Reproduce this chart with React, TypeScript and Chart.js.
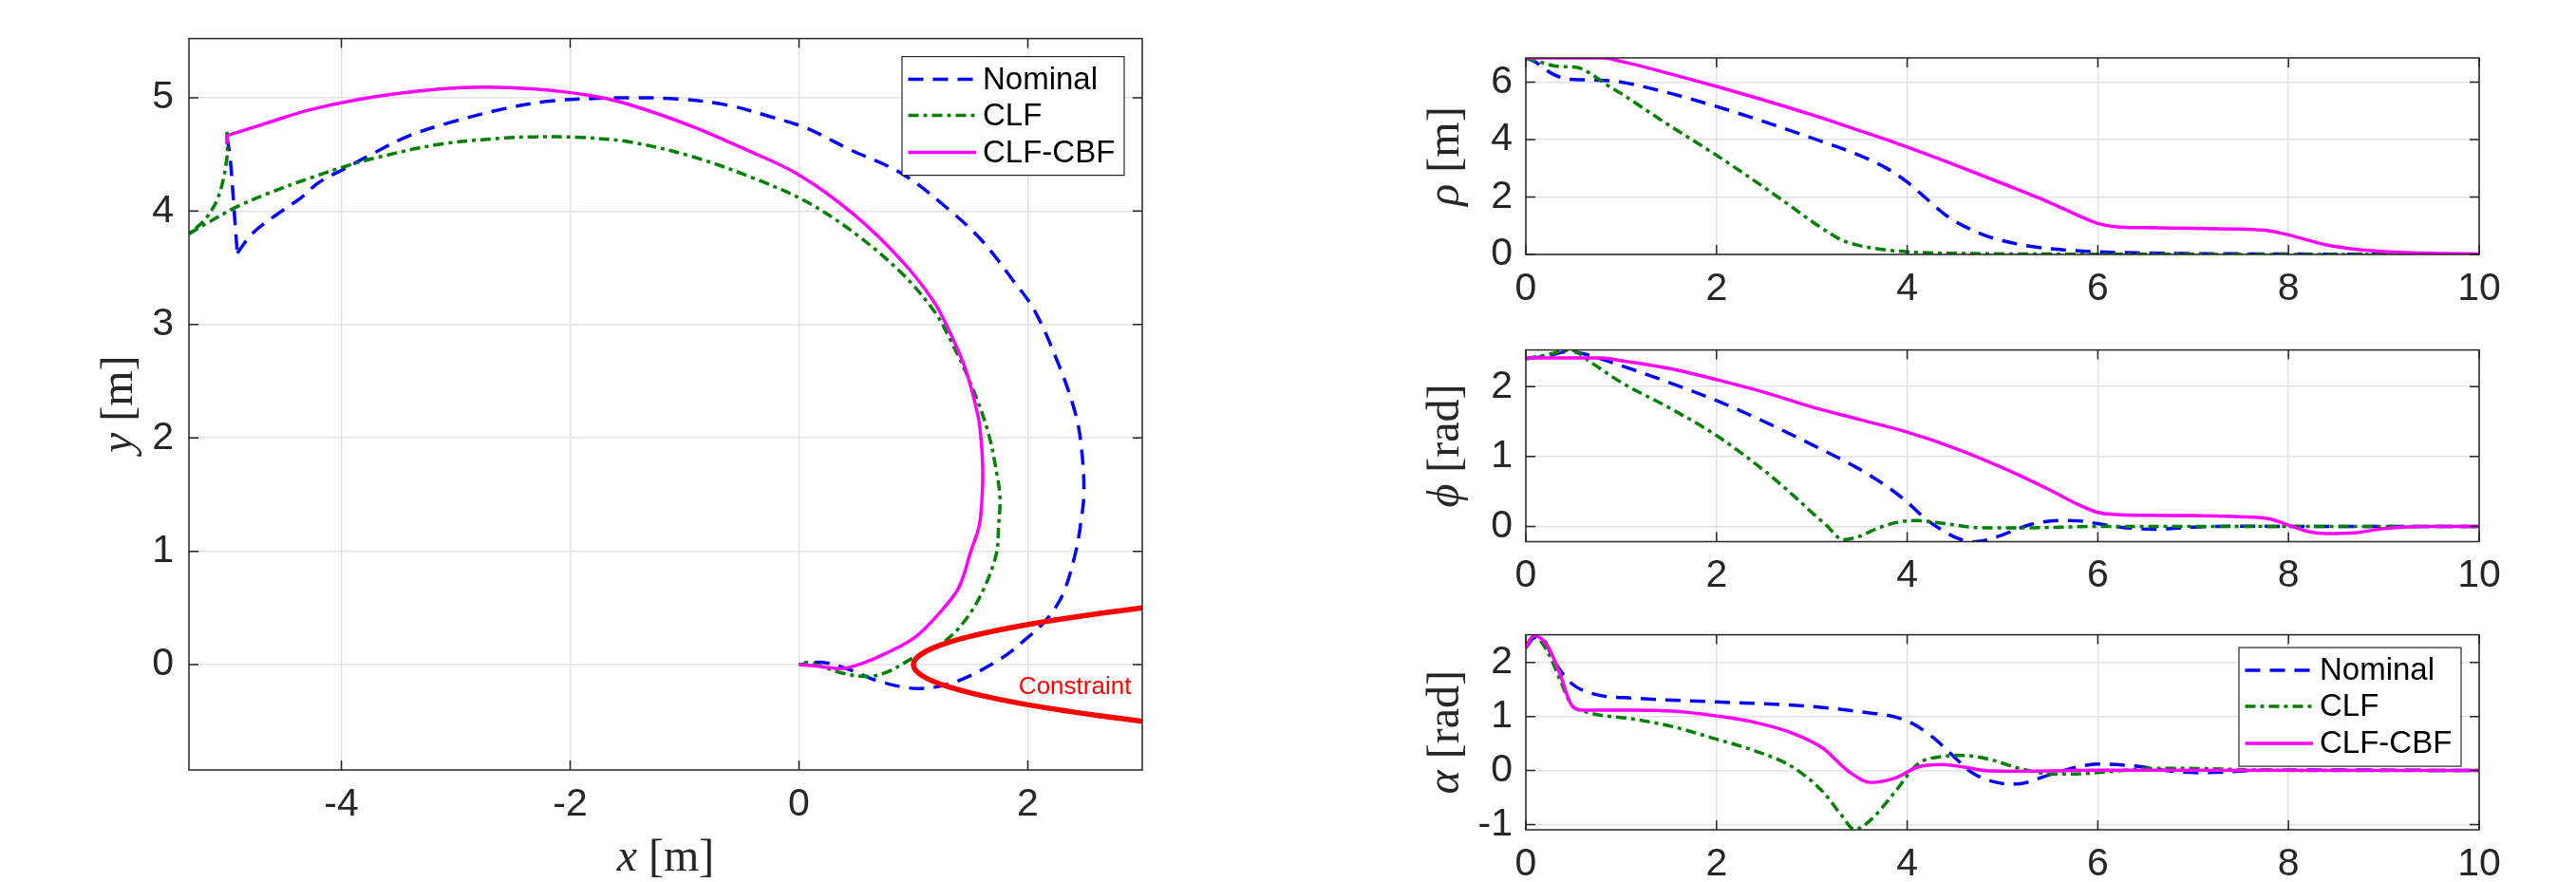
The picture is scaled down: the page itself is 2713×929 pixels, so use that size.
import React, { useEffect, useRef } from "react";
import { Chart, registerables } from "chart.js";

Chart.register(...registerables);

// ---------------- colours / fonts ----------------
const AX = "#262626";
const GRID = "#e2e2e2";
const BLUE = "#0000ff";
const GREEN = "#008000";
const MAGENTA = "#ff00ff";
const RED = "#ff0000";
const SANS = "'Liberation Sans', Arial, sans-serif";
const SERIF = "'Liberation Serif', 'Times New Roman', serif";

const DASH_NOMINAL = [16, 10];
const DASH_CLF = [11, 5, 4, 5];

// ---------------- left plot: trajectories ----------------
const nominalX = [-5.0, -4.97, -4.94, -4.91, -4.77, -4.55, -4.35, -4.2, -3.98, -3.7, -3.42, -3.09, -2.59, -2.18, -1.76, -1.48, -1.07, -0.65, -0.24, 0.07, 0.43, 0.9, 1.29, 1.59, 1.87, 2.06, 2.28, 2.42, 2.47, 2.49, 2.46, 2.42, 2.33, 2.24, 2.12, 2.0, 1.76, 1.37, 1.04, 0.71, 0.43, 0.21, 0.0];
const nominalY = [4.66, 4.45, 4.05, 3.63, 3.81, 3.98, 4.12, 4.25, 4.37, 4.52, 4.66, 4.77, 4.9, 4.97, 4.995, 5.0, 4.99, 4.94, 4.83, 4.73, 4.55, 4.33, 4.03, 3.75, 3.39, 3.12, 2.62, 2.2, 1.9, 1.51, 1.23, 1.0, 0.68, 0.5, 0.35, 0.24, 0.05, -0.15, -0.21, -0.15, -0.04, 0.02, 0.0];
const NOMINAL_CUSP = 3;

const clfX = [-5.0, -5.0, -5.07, -5.18, -5.33, -5.18, -4.91, -4.63, -4.25, -3.98, -3.7, -3.14, -2.59, -2.31, -1.9, -1.48, -0.93, -0.37, 0.07, 0.48, 0.9, 1.18, 1.31, 1.5, 1.65, 1.735, 1.757, 1.745, 1.725, 1.62, 1.48, 1.29, 0.98, 0.76, 0.6, 0.38, 0.18, 0.06, 0.0];
const clfY = [4.7, 4.47, 4.14, 3.94, 3.8, 3.89, 4.04, 4.16, 4.3, 4.39, 4.47, 4.59, 4.644, 4.655, 4.649, 4.61, 4.48, 4.28, 4.08, 3.81, 3.45, 3.12, 2.89, 2.48, 2.06, 1.65, 1.46, 1.23, 0.98, 0.68, 0.43, 0.22, 0.05, -0.07, -0.105, -0.075, -0.01, 0.02, 0.0];
const CLF_CUSP = 4;

const cbfX = [-5.0, -5.0, -4.66, -4.25, -3.7, -3.14, -2.76, -2.31, -1.84, -1.48, -0.93, -0.48, 0.0, 0.48, 0.9, 1.18, 1.31, 1.452, 1.563, 1.59, 1.604, 1.604, 1.577, 1.502, 1.397, 1.231, 1.01, 0.76, 0.55, 0.38, 0.21, 0.08, 0.0];
const cbfY = [4.59, 4.665, 4.775, 4.9, 5.01, 5.077, 5.094, 5.077, 5.022, 4.939, 4.746, 4.55, 4.32, 3.97, 3.56, 3.2, 2.95, 2.617, 2.202, 2.0, 1.787, 1.566, 1.234, 1.0, 0.68, 0.459, 0.238, 0.1, 0.01, -0.035, -0.02, -0.005, 0.0];
const CBF_CUSP = 1;

const constraintX = [3.0, 2.62, 2.28, 1.98, 1.72, 1.5, 1.32, 1.18, 1.08, 1.02, 1.0, 1.02, 1.08, 1.18, 1.32, 1.5, 1.72, 1.98, 2.28, 2.62, 3.0];
const constraintY = [-0.5, -0.45, -0.4, -0.35, -0.3, -0.25, -0.2, -0.15, -0.1, -0.05, 0.0, 0.05, 0.1, 0.15, 0.2, 0.25, 0.3, 0.35, 0.4, 0.45, 0.5];

const xyXTicks = [-4, -2, 0, 2];
const xyYTicks = [0, 1, 2, 3, 4, 5];

// ---------------- right plots: time histories ----------------
const timeTicks = [0, 2, 4, 6, 8, 10];

const rhoNomT = [0, 0.1, 0.2, 0.3, 0.45, 0.6, 0.8, 1.0, 1.5, 2.0, 2.5, 3.0, 3.5, 3.8, 4.0, 4.2, 4.4, 4.6, 4.8, 5.0, 5.3, 5.6, 6.0, 6.5, 7, 8, 9, 10];
const rhoNom = [6.84, 6.7, 6.45, 6.25, 6.1, 6.08, 6.06, 6.0, 5.62, 5.15, 4.62, 4.05, 3.45, 2.97, 2.52, 1.95, 1.38, 0.98, 0.68, 0.48, 0.28, 0.17, 0.09, 0.05, 0.03, 0.015, 0.005, 0.0];
const rhoClfT = [0, 0.15, 0.3, 0.45, 0.55, 0.7, 0.85, 1.0, 1.25, 1.5, 1.75, 2.0, 2.25, 2.5, 2.75, 3.0, 3.15, 3.3, 3.45, 3.6, 3.8, 4.0, 4.3, 4.6, 5, 6, 7, 8, 10];
const rhoClf = [6.84, 6.7, 6.56, 6.53, 6.5, 6.25, 5.9, 5.6, 5.05, 4.5, 3.98, 3.45, 2.9, 2.33, 1.75, 1.15, 0.82, 0.52, 0.35, 0.24, 0.15, 0.09, 0.05, 0.035, 0.02, 0.01, 0.005, 0.0, 0.0];
const rhoCbfT = [0, 0.4, 0.8, 1.0, 1.5, 2, 2.5, 3, 3.5, 4, 4.5, 5, 5.5, 5.8, 6.0, 6.2, 6.5, 7, 7.5, 7.8, 8.0, 8.2, 8.4, 8.7, 9, 9.5, 10];
const rhoCbf = [6.84, 6.84, 6.84, 6.72, 6.3, 5.85, 5.37, 4.86, 4.31, 3.74, 3.12, 2.47, 1.8, 1.35, 1.08, 0.96, 0.93, 0.91, 0.88, 0.82, 0.68, 0.5, 0.33, 0.18, 0.1, 0.04, 0.02];
const rhoTicks = [0, 2, 4, 6];

const phiNomT = [0, 0.2, 0.45, 0.6, 1.0, 1.5, 2, 2.5, 3, 3.5, 3.8, 4.0, 4.2, 4.4, 4.55, 4.7, 4.85, 5.0, 5.3, 5.6, 5.8, 6.0, 6.3, 6.6, 7.0, 7.5, 8, 10];
const phiNom = [2.4, 2.43, 2.5, 2.47, 2.3, 2.06, 1.8, 1.5, 1.17, 0.82, 0.56, 0.35, 0.1, -0.08, -0.18, -0.22, -0.19, -0.12, 0.03, 0.085, 0.08, 0.04, -0.02, -0.04, -0.01, 0.005, 0.0, 0.0];
const phiClfT = [0, 0.2, 0.47, 0.7, 1.0, 1.5, 2.0, 2.5, 2.8, 3.0, 3.15, 3.33, 3.5, 3.7, 3.9, 4.1, 4.4, 4.8, 5.2, 6, 7, 10];
const phiClf = [2.4, 2.45, 2.52, 2.33, 2.06, 1.7, 1.3, 0.8, 0.45, 0.2, 0.02, -0.19, -0.14, -0.02, 0.06, 0.085, 0.04, -0.02, -0.02, 0.0, 0.0, 0.0];
const phiCbfT = [0, 0.8, 1.0, 1.5, 2, 2.5, 3, 3.5, 4, 4.5, 5, 5.5, 5.8, 6.0, 6.2, 6.5, 7, 7.5, 7.8, 8.0, 8.2, 8.4, 8.7, 9.0, 9.5, 10];
const phiCbf = [2.41, 2.41, 2.37, 2.26, 2.1, 1.92, 1.71, 1.53, 1.35, 1.12, 0.84, 0.52, 0.31, 0.2, 0.17, 0.16, 0.155, 0.14, 0.11, 0.02, -0.07, -0.1, -0.09, -0.03, 0.0, 0.0];
const phiTicks = [0, 1, 2];

const alphaNomT = [0, 0.08, 0.15, 0.32, 0.48, 0.73, 1.14, 2.0, 2.8, 3.45, 4.0, 4.28, 4.5, 4.69, 4.94, 5.15, 5.44, 5.77, 6.02, 6.35, 6.84, 7.09, 7.75, 8.5, 10];
const alphaNom = [2.27, 2.45, 2.47, 1.96, 1.61, 1.41, 1.34, 1.27, 1.21, 1.1, 0.92, 0.6, 0.24, -0.05, -0.22, -0.25, -0.11, 0.063, 0.12, 0.09, -0.023, -0.04, 0.006, 0.01, 0.0];
const alphaClfT = [0, 0.08, 0.23, 0.36, 0.48, 0.6, 1.14, 1.55, 2.0, 2.38, 2.8, 3.12, 3.3, 3.45, 3.62, 3.87, 4.11, 4.36, 4.57, 4.86, 5.19, 5.52, 5.77, 6.1, 6.59, 6.92, 7.58, 8.5, 10];
const alphaClf = [2.27, 2.5, 2.19, 1.67, 1.21, 1.1, 0.95, 0.81, 0.58, 0.38, 0.063, -0.4, -0.8, -1.09, -0.91, -0.4, 0.12, 0.26, 0.28, 0.21, 0.034, -0.063, -0.063, -0.023, 0.04, 0.04, 0.015, 0.0, 0.0];
const alphaCbfT = [0, 0.085, 0.23, 0.36, 0.48, 0.6, 1.14, 1.55, 2.0, 2.38, 2.8, 3.12, 3.37, 3.62, 3.87, 4.11, 4.36, 4.6, 4.86, 5.27, 6, 10];
const alphaCbf = [2.27, 2.5, 2.3, 1.78, 1.21, 1.12, 1.12, 1.1, 1.01, 0.9, 0.69, 0.41, 0.006, -0.22, -0.14, 0.063, 0.11, 0.063, -0.006, -0.01, 0.005, 0.0];
const alphaTicks = [-1, 0, 1, 2];

const legendLabels = ["Nominal", "CLF", "CLF-CBF"];

// ---------------- helpers ----------------
function series(xs: number[], ys: number[], color: string, width: number, dash: number[], extra: any = {}) {
  return {
    data: xs.map((x, i) => ({ x, y: ys[i] })),
    showLine: true,
    borderColor: color,
    backgroundColor: color,
    borderWidth: width,
    borderDash: dash,
    borderCapStyle: "butt",
    borderJoinStyle: "round",
    pointRadius: 0,
    pointHoverRadius: 0,
    fill: false,
    ...extra,
  };
}

function splitSeries(xs: number[], ys: number[], cusp: number, color: string, width: number, dash: number[]) {
  return [
    series(xs.slice(0, cusp + 1), ys.slice(0, cusp + 1), color, width, dash, { tension: 0.35 }),
    series(xs.slice(cusp), ys.slice(cusp), color, width, dash, { tension: 0.35 }),
  ];
}

function drawRich(ctx: CanvasRenderingContext2D, parts: { t: string; it?: boolean }[], size: number, x: number, y: number, rot: number) {
  ctx.save();
  ctx.translate(x, y);
  ctx.rotate(rot);
  ctx.fillStyle = AX;
  ctx.textBaseline = "alphabetic";
  ctx.textAlign = "left";
  let total = 0;
  const widths = parts.map((p) => {
    ctx.font = `${p.it ? "italic " : ""}${size}px ${SERIF}`;
    const w = ctx.measureText(p.t).width;
    total += w;
    return w;
  });
  let cx = -total / 2;
  parts.forEach((p, i) => {
    ctx.font = `${p.it ? "italic " : ""}${size}px ${SERIF}`;
    ctx.fillText(p.t, cx, 0);
    cx += widths[i];
  });
  ctx.restore();
}

const matlabPlugin = {
  id: "matlab",
  afterDatasetsDraw(chart: any, _args: any, opts: any) {
    const { ctx, chartArea: a, scales } = chart;
    const xs = scales.x;
    const ys = scales.y;
    ctx.save();
    (opts.texts || []).forEach((tx: any) => {
      ctx.font = tx.font;
      ctx.fillStyle = tx.color;
      ctx.textAlign = "left";
      ctx.textBaseline = "middle";
      ctx.fillText(tx.text, xs.getPixelForValue(tx.x), ys.getPixelForValue(tx.y));
    });
    // box + inward ticks
    ctx.setLineDash([]);
    ctx.strokeStyle = AX;
    ctx.lineWidth = 1.5;
    ctx.strokeRect(a.left, a.top, a.right - a.left, a.bottom - a.top);
    const tl = 10;
    ctx.beginPath();
    xs.ticks.forEach((t: any) => {
      const p = xs.getPixelForValue(t.value);
      ctx.moveTo(p, a.bottom);
      ctx.lineTo(p, a.bottom - tl);
      ctx.moveTo(p, a.top);
      ctx.lineTo(p, a.top + tl);
    });
    ys.ticks.forEach((t: any) => {
      const p = ys.getPixelForValue(t.value);
      ctx.moveTo(a.left, p);
      ctx.lineTo(a.left + tl, p);
      ctx.moveTo(a.right, p);
      ctx.lineTo(a.right - tl, p);
    });
    ctx.stroke();
    // legend
    const L = opts.legend;
    if (L) {
      const bx = a.right - L.right - L.w;
      const by = a.top + L.top;
      ctx.fillStyle = "#ffffff";
      ctx.fillRect(bx, by, L.w, L.h);
      ctx.strokeStyle = AX;
      ctx.lineWidth = 1.2;
      ctx.strokeRect(bx, by, L.w, L.h);
      L.items.forEach((it: any, i: number) => {
        const y = by + L.rows[i];
        ctx.setLineDash(it.dash);
        ctx.strokeStyle = it.color;
        ctx.lineWidth = it.width;
        ctx.beginPath();
        ctx.moveTo(bx + 6.5, y);
        ctx.lineTo(bx + 78, y);
        ctx.stroke();
        ctx.setLineDash([]);
        ctx.fillStyle = "#000000";
        ctx.font = `33px ${SANS}`;
        ctx.textAlign = "left";
        ctx.textBaseline = "middle";
        ctx.fillText(it.label, bx + 85, y + 1);
      });
    }
    ctx.restore();
  },
  afterDraw(chart: any, _args: any, opts: any) {
    const { ctx, chartArea: a } = chart;
    if (opts.xLabel) drawRich(ctx, opts.xLabel, opts.labelSize, (a.left + a.right) / 2, opts.xLabelBaseline, 0);
    if (opts.yLabel) drawRich(ctx, opts.yLabel, opts.labelSize, opts.yLabelBaseline, (a.top + a.bottom) / 2, -Math.PI / 2);
  },
};
Chart.register(matlabPlugin as any);

function scaleCfg(min: number, max: number, ticks: number[], horizontal: boolean, fit: number, pad: number) {
  return {
    type: "linear",
    min,
    max,
    afterBuildTicks: (s: any) => {
      s.ticks = ticks.map((v) => ({ value: v }));
    },
    afterFit: (s: any) => {
      if (horizontal) s.height = fit;
      else s.width = fit;
    },
    grid: { color: GRID, lineWidth: 1.5, drawTicks: false },
    border: { display: false },
    ticks: {
      color: AX,
      font: { family: SANS, size: 41 },
      padding: pad,
      autoSkip: false,
      maxRotation: 0,
      minRotation: 0,
      callback: (v: any) => String(v),
    },
  };
}

const legendItems = [
  { label: legendLabels[0], color: BLUE, dash: DASH_NOMINAL, width: 3.5 },
  { label: legendLabels[1], color: GREEN, dash: DASH_CLF, width: 3.5 },
  { label: legendLabels[2], color: MAGENTA, dash: [], width: 3.5 },
];

function baseOptions(padding: any, xScale: any, yScale: any, matlab: any) {
  return {
    responsive: false,
    animation: false,
    devicePixelRatio: 1,
    layout: { padding },
    events: [],
    plugins: { legend: { display: false }, tooltip: { enabled: false }, title: { display: false }, matlab },
    scales: { x: xScale, y: yScale },
  };
}

function xyConfig() {
  return {
    type: "scatter",
    data: {
      datasets: [
        series(constraintX, constraintY, RED, 5.5, [], { tension: 0.3 }),
        ...splitSeries(cbfX, cbfY, CBF_CUSP, MAGENTA, 3.5, []),
        ...splitSeries(clfX, clfY, CLF_CUSP, GREEN, 3.5, DASH_CLF),
        ...splitSeries(nominalX, nominalY, NOMINAL_CUSP, BLUE, 3.5, DASH_NOMINAL),
      ],
    },
    options: baseOptions(
      { left: 0, top: 33, right: 147, bottom: 0 },
      scaleCfg(-5.332, 3.0, xyXTicks, true, 118, 12),
      scaleCfg(-0.929, 5.522, xyYTicks, false, 199, 16),
      {
        xLabel: [{ t: "x", it: true }, { t: " [m]" }],
        yLabel: [{ t: "y", it: true }, { t: " [m]" }],
        labelSize: 48,
        xLabelBaseline: 917,
        yLabelBaseline: 139,
        texts: [{ text: "Constraint", x: 1.92, y: -0.2, font: `26px ${SANS}`, color: RED }],
        legend: { right: 19, top: 19, w: 234, h: 125, rows: [24, 62, 101], items: legendItems },
      }
    ),
  };
}

function timeConfig(
  nomT: number[], nom: number[], clfT: number[], clf: number[], cbfT: number[], cbf: number[],
  ymin: number, ymax: number, yTicks: number[], top: number, xh: number, label: any, legend: any
) {
  const mono = { cubicInterpolationMode: "monotone" };
  return {
    type: "scatter",
    data: {
      datasets: [
        series(cbfT, cbf, MAGENTA, 3.5, [], mono),
        series(clfT, clf, GREEN, 3.5, DASH_CLF, mono),
        series(nomT, nom, BLUE, 3.5, DASH_NOMINAL, mono),
      ],
    },
    options: baseOptions(
      { left: 0, top, right: 102, bottom: 0 },
      scaleCfg(0, 10, timeTicks, true, xh, 12),
      scaleCfg(ymin, ymax, yTicks, false, 257, 14),
      {
        yLabel: label,
        labelSize: 48,
        yLabelBaseline: 186,
        legend,
      }
    ),
  };
}

function ChartCanvas({ make, left, top, width, height }: { make: () => any; left: number; top: number; width: number; height: number }) {
  const ref = useRef<HTMLCanvasElement>(null);
  useEffect(() => {
    const chart = new Chart(ref.current as HTMLCanvasElement, make() as any);
    return () => chart.destroy();
  }, []);
  return (
    <canvas
      ref={ref}
      width={width}
      height={height}
      style={{ position: "absolute", left, top, width, height, display: "block" }}
    />
  );
}

export default function App() {
  return (
    <div style={{ position: "absolute", left: 0, top: 0, width: 2713, height: 929, background: "#ffffff", overflow: "hidden" }}>
      <ChartCanvas make={xyConfig} left={0} top={0} width={1350} height={929} />
      <ChartCanvas
        make={() =>
          timeConfig(rhoNomT, rhoNom, rhoClfT, rhoClf, rhoCbfT, rhoCbf, 0, 6.84, rhoTicks, 61, 62,
            [{ t: "ρ", it: true }, { t: " [m]" }], null)
        }
        left={1350}
        top={0}
        width={1363}
        height={330}
      />
      <ChartCanvas
        make={() =>
          timeConfig(phiNomT, phiNom, phiClfT, phiClf, phiCbfT, phiCbf, -0.217, 2.524, phiTicks, 33.5, 59.5,
            [{ t: "ϕ", it: true }, { t: " [rad]" }], null)
        }
        left={1350}
        top={330}
        width={1363}
        height={300}
      />
      <ChartCanvas
        make={() =>
          timeConfig(alphaNomT, alphaNom, alphaClfT, alphaClf, alphaCbfT, alphaCbf, -1.096, 2.513, alphaTicks, 34.5, 55,
            [{ t: "α", it: true }, { t: " [rad]" }],
            { right: 19, top: 13.5, w: 234, h: 125, rows: [24, 62, 101], items: legendItems })
        }
        left={1350}
        top={630}
        width={1363}
        height={299}
      />
    </div>
  );
}
